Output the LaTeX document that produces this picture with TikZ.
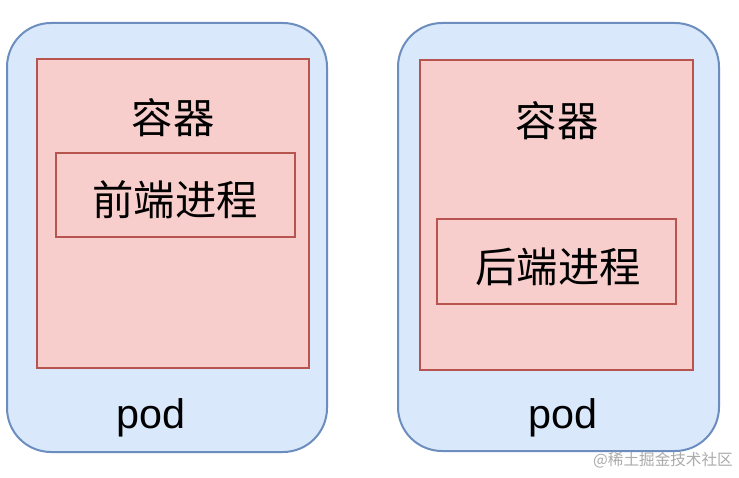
\documentclass[tikz,border=0pt]{standalone}
\usepackage{fontspec}
\setmainfont{Liberation Sans}
\newfontfamily\cjk{Noto Sans CJK SC}
\definecolor{podfill}{HTML}{DAE8FC}
\definecolor{podline}{HTML}{6C8EBF}
\definecolor{ctrfill}{HTML}{F8CECC}
\definecolor{ctrline}{HTML}{B85450}
\definecolor{wmgrey}{HTML}{ABABAB}
\tikzset{
  podbox/.style={draw=podline, fill=podfill, line width=1.5pt, rounded corners=33pt, inner sep=0pt, outer sep=0pt},
  ctrbox/.style={draw=ctrline, fill=ctrfill, line width=1.5pt, inner sep=0pt, outer sep=0pt},
  cjktext/.style={font=\cjk\fontsize{31}{36}\selectfont, text=black, inner sep=0pt},
  podtext/.style={font=\fontsize{31}{36}\selectfont, text=black, inner sep=0pt},
  wmtext/.style={font=\cjk\fontsize{11.7}{14}\selectfont, text=wmgrey, inner sep=0pt}
}
\begin{document}
\begin{tikzpicture}[x=0.75pt, y=-0.75pt]
\useasboundingbox[fill=white] (0,0) rectangle (739,478);
% left pod
\node[podbox, minimum width=240pt, minimum height=321.75pt] (podL) at (167,237.5) {};
\node[ctrbox, minimum width=204pt, minimum height=231.75pt] (ctrL) at (173,213.5) {};
\node[ctrbox, minimum width=179.25pt, minimum height=63pt] (procL) at (175.5,195) {};
\node[cjktext] (ctrLtext) at (173,118) {容器};
\node[cjktext] (procLtext) at (175,200) {前端进程};
\node[podtext] (podLtext) at (151,418) {pod};
% right pod
\node[podbox, minimum width=240.75pt, minimum height=321pt] (podR) at (558.5,237) {};
\node[ctrbox, minimum width=204.75pt, minimum height=232.5pt] (ctrR) at (556.5,215) {};
\node[ctrbox, minimum width=179.25pt, minimum height=63.75pt] (procR) at (556.5,261.5) {};
\node[cjktext] (ctrRtext) at (557,121) {容器};
\node[cjktext] (procRtext) at (558,267) {后端进程};
\node[podtext] (podRtext) at (563,418) {pod};
% watermark
\node[wmtext] (wm) at (663,460) {@稀土掘金技术社区};
\end{tikzpicture}
\end{document}
